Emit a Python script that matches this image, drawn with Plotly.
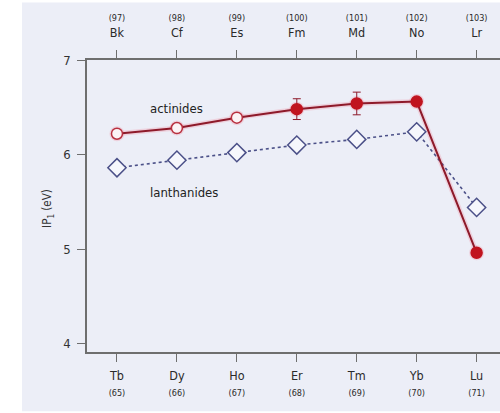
import plotly.graph_objects as go

# ---- data ----
lanthanides = ["Tb", "Dy", "Ho", "Er", "Tm", "Yb", "Lu"]
lanthanide_z = ["(65)", "(66)", "(67)", "(68)", "(69)", "(70)", "(71)"]
actinides = ["Bk", "Cf", "Es", "Fm", "Md", "No", "Lr"]
actinide_z = ["(97)", "(98)", "(99)", "(100)", "(101)", "(102)", "(103)"]

ip_lanthanides = [5.86, 5.94, 6.02, 6.10, 6.16, 6.24, 5.44]
ip_actinides = [6.22, 6.28, 6.39, 6.48, 6.54, 6.56, 4.96]
ip_actinides_err = [0, 0, 0, 0.11, 0.12, 0, 0]
actinide_measured_here = [False, False, False, True, True, True, True]

y_ticks = [4, 5, 6, 7]

# ---- style ----
BG = "#eceef7"
RED = "#c0141f"
DARKRED = "#8e1a2a"
BLUE = "#4b5088"
AX = "#6e6e6e"
FONT = "DejaVu Sans Condensed, Liberation Sans Narrow, Roboto, sans-serif"

pos = list(range(len(lanthanides)))

fig = go.Figure()

# halo under the actinide line
fig.add_trace(go.Scatter(
    x=pos, y=ip_actinides, mode="lines+markers",
    line=dict(color="rgba(240,110,130,0.22)", width=5),
    marker=dict(size=15, color="rgba(240,110,130,0.22)", line=dict(width=0)),
    hoverinfo="skip", showlegend=False))

# lanthanides: open diamonds, dotted line
fig.add_trace(go.Scatter(
    x=pos, y=ip_lanthanides, mode="lines+markers", name="lanthanides",
    line=dict(color=BLUE, width=1.6, dash="dot"),
    marker=dict(symbol="diamond", size=14, color="#f6f7fc",
                line=dict(color=BLUE, width=1.5)),
    showlegend=False))

# actinides: circles, solid line, error bars
fig.add_trace(go.Scatter(
    x=pos, y=ip_actinides, mode="lines+markers", name="actinides",
    line=dict(color=DARKRED, width=2),
    marker=dict(symbol="circle", size=11,
                color=[RED if m else "#fbf3f5" for m in actinide_measured_here],
                line=dict(color=[RED if m else "#b8303f" for m in actinide_measured_here], width=1.5)),
    error_y=dict(type="data", array=ip_actinides_err, visible=True,
                 color=DARKRED, thickness=1, width=4),
    showlegend=False))

# invisible trace for top axis
fig.add_trace(go.Scatter(x=pos, y=ip_actinides, xaxis="x2", mode="markers",
                         marker=dict(opacity=0), hoverinfo="skip", showlegend=False))

bottom_text = [f"{s}<br><span style='font-size:9px'>{z}</span>" for s, z in zip(lanthanides, lanthanide_z)]
top_text = [f"<span style='font-size:9px'>{z}</span><br>{s}" for s, z in zip(actinides, actinide_z)]

# plot area geometry (px)
L, R, T, B = 87, 0, 59.5, 61.3
W, H = 500, 413
pw, ph = W - L - R, H - T - B

fig.update_layout(
    width=W, height=H,
    margin=dict(l=L, r=R, t=T, b=B),
    paper_bgcolor="white", plot_bgcolor=BG,
    font=dict(family=FONT, size=12, color="#2a2a2a"),
    xaxis=dict(range=[-0.5, 6.39], tickmode="array", tickvals=pos, ticktext=bottom_text,
               showline=True, linecolor=AX, linewidth=1.5, ticks="outside",
               ticklen=8, tickcolor=AX, tickwidth=1.2, showgrid=False, zeroline=False,
               ticklabelstandoff=3,
               tickfont=dict(size=12.5, color="#2a2a2a")),
    xaxis2=dict(range=[-0.5, 6.39], overlaying="x", side="top", tickmode="array",
                tickvals=pos, ticktext=top_text, showline=True, linecolor=AX, linewidth=1.5,
                ticks="outside", ticklen=8, tickcolor=AX, tickwidth=1.2,
                ticklabelstandoff=8,
                showgrid=False, zeroline=False, tickfont=dict(size=12.5, color="#2a2a2a")),
    yaxis=dict(range=[3.91, 7.0], tickvals=y_ticks, showline=True, linecolor=AX,
               linewidth=1.5, ticks="outside", ticklen=8, tickcolor=AX, tickwidth=1.2,
               ticklabelstandoff=4,
               showgrid=False, zeroline=False, tickfont=dict(size=13, color="#333333")),
    shapes=[
        # light background panel covering figure (except left white strip)
        dict(type="rect", xref="paper", yref="paper", layer="below",
             x0=(22 - L) / pw, x1=1.0, y0=(H - B - 411) / ph, y1=(H - B - 2) / ph,
             fillcolor=BG, line=dict(width=0)),
    ],
    annotations=[
        dict(text="IP<sub>1</sub> (eV)", xref="paper", yref="paper",
             x=(38 - L) / pw, y=(H - B - 208) / ph, textangle=-90, showarrow=False,
             font=dict(size=11.5, color="#333333")),
        dict(text="actinides", x=0.99, y=6.49, xref="x", yref="y", showarrow=False,
             font=dict(size=13, color="#222222")),
        dict(text="lanthanides", x=1.12, y=5.60, xref="x", yref="y", showarrow=False,
             font=dict(size=13, color="#222222")),
    ],
)

fig.write_html("out.html")
